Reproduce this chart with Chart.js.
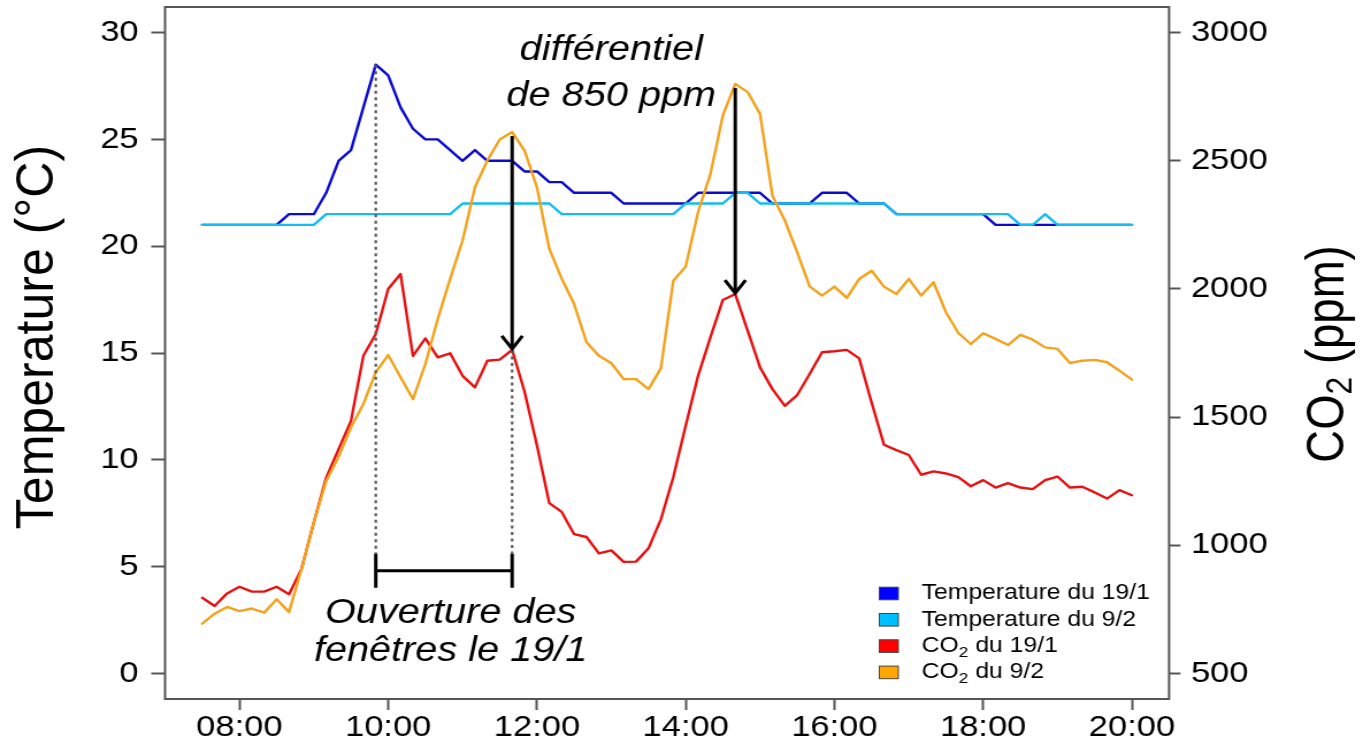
<!DOCTYPE html>
<html><head><meta charset="utf-8">
<script src="https://cdn.jsdelivr.net/npm/chart.js"></script>
<style>
html,body{margin:0;padding:0;background:#fff;overflow:hidden;width:1363px;height:743px;}
#wrap{position:absolute;left:0;top:0;width:1185px;height:743px;transform-origin:0 0;transform:scaleX(1.150211);}
canvas{display:block;}
</style></head><body>
<div id="wrap"><canvas id="c" width="1185" height="743"></canvas></div>
<script>
// ---------- DATA ----------
const times = ['07:30','07:40','07:50','08:00','08:10','08:20','08:30','08:40','08:50','09:00',
  '09:10','09:20','09:30','09:40','09:50','10:00','10:10','10:20','10:30','10:40',
  '10:50','11:00','11:10','11:20','11:30','11:40','11:50','12:00','12:10','12:20',
  '12:30','12:40','12:50','13:00','13:10','13:20','13:30','13:40','13:50','14:00',
  '14:10','14:20','14:30','14:40','14:50','15:00','15:10','15:20','15:30','15:40',
  '15:50','16:00','16:10','16:20','16:30','16:40','16:50','17:00','17:10','17:20',
  '17:30','17:40','17:50','18:00','18:10','18:20','18:30','18:40','18:50','19:00',
  '19:10','19:20','19:30','19:40','19:50','20:00'];

const temp19 = [21,21,21,21,21,21,21,21.5,21.5,21.5,
  22.5,24,24.5,26.5,28.5,28,26.5,25.5,25,25,
  24.5,24,24.5,24,24,24,23.5,23.5,23,23,
  22.5,22.5,22.5,22.5,22,22,22,22,22,22,
  22.5,22.5,22.5,22.5,22.5,22.5,22,22,22,22,
  22.5,22.5,22.5,22,22,22,21.5,21.5,21.5,21.5,
  21.5,21.5,21.5,21.5,21,21,21,21,21,21,
  21,21,21,21,21,21];

const temp9 = [21,21,21,21,21,21,21,21,21,21,
  21.5,21.5,21.5,21.5,21.5,21.5,21.5,21.5,21.5,21.5,
  21.5,22,22,22,22,22,22,22,22,21.5,
  21.5,21.5,21.5,21.5,21.5,21.5,21.5,21.5,21.5,22,
  22,22,22,22.5,22.5,22,22,22,22,22,
  22,22,22,22,22,22,21.5,21.5,21.5,21.5,
  21.5,21.5,21.5,21.5,21.5,21.5,21,21,21.5,21,
  21,21,21,21,21,21];

const co2_19 = [795,763,812,838,819,819,838,809,906,1089,
  1264,1375,1485,1739,1824,2000,2058,1739,1807,1733,
  1749,1661,1616,1720,1724,1762,1600,1390,1164,1130,
  1043,1032,968,980,935,936,988,1101,1265,1466,
  1661,1812,1957,1980,1837,1694,1609,1544,1586,1668,
  1753,1757,1762,1729,1557,1392,1371,1352,1275,1288,
  1280,1266,1230,1254,1225,1242,1225,1219,1254,1268,
  1225,1228,1206,1182,1215,1195];

const co2_9 = [694,733,759,743,753,737,789,739,906,1089,
  1251,1345,1460,1551,1675,1742,1655,1570,1707,1883,
  2039,2189,2397,2501,2583,2612,2540,2397,2156,2040,
  1941,1792,1739,1710,1648,1648,1609,1690,2032,2087,
  2300,2449,2677,2800,2768,2683,2364,2267,2143,2010,
  1974,2009,1965,2039,2071,2009,1980,2039,1974,2026,
  1909,1828,1785,1827,1805,1781,1821,1802,1772,1766,
  1711,1720,1723,1714,1681,1646];

const seriesNames = ['Temperature du 19/1','Temperature du 9/2','CO\u2082 du 19/1','CO\u2082 du 9/2'];
const xTickValues = ['08:00','10:00','12:00','14:00','16:00','18:00','20:00'];
const tempTicks = [0,5,10,15,20,25,30];
const co2Ticks = [500,1000,1500,2000,2500,3000];
const leftTitle = 'Temperature (\u00B0C)';
const rightTitle = 'CO\u2082 (ppm)';
const openStart = '09:50', openEnd = '11:40';
const arrowTimes = ['11:40','14:40'];
const noteTop = ['diff\u00E9rentiel','de 850 ppm'];
const noteBottom = ['Ouverture des','fen\u00EAtres le 19/1'];

// ---------- STYLE ----------
const FONT = "'Liberation Sans', Arial, Helvetica, sans-serif";
const lineColors = ['#0a0ad0','#12bdf2','#e81010','#f3a21c'];
const legendColors = ['#0000ff','#00bfff','#ff0000','#ffa500'];

const toHours = s => { const p = s.split(':').map(Number); return p[0] + p[1]/60; };
const xs = times.map(toHours);
const pts = arr => arr.map((v,i) => ({x: xs[i], y: v}));

function richParts(text){
  return text.split(/(\u2082)/).filter(s => s.length).map(s => s === '\u2082' ? {t:'2', sub:true} : {t:s, sub:false});
}
function drawRich(ctx, text, x, y, size, style, align){
  const parts = richParts(text);
  const f = p => `${style} ${p.sub ? size*0.7 : size}px ${FONT}`;
  let w = 0;
  parts.forEach(p => { ctx.font = f(p); p.w = ctx.measureText(p.t).width; w += p.w; });
  let cx = align === 'center' ? x - w/2 : (align === 'right' ? x - w : x);
  ctx.textAlign = 'left';
  parts.forEach(p => { ctx.font = f(p); ctx.fillText(p.t, cx, y + (p.sub ? size*0.24 : 0)); cx += p.w; });
}

const decor = {
  id: 'decor',
  afterDatasetsDraw(chart){
    const {ctx, scales:{x, y, y1}} = chart;
    const iO = times.indexOf(openStart), iC = times.indexOf(openEnd);
    const xo = x.getPixelForValue(xs[iO]), xc = x.getPixelForValue(xs[iC]);
    const yBr = y.getPixelForValue(4.8);
    ctx.save();
    ctx.lineCap = 'butt';
    // dotted guides
    ctx.setLineDash([3,3.5]); ctx.strokeStyle = '#5a5a5a'; ctx.lineWidth = 2.2;
    ctx.beginPath();
    ctx.moveTo(xo, y.getPixelForValue(temp19[iO])); ctx.lineTo(xo, yBr - 17);
    ctx.moveTo(xc, y1.getPixelForValue(co2_19[iC])); ctx.lineTo(xc, yBr - 17);
    ctx.stroke();
    ctx.setLineDash([]);
    // bracket
    ctx.strokeStyle = '#000'; ctx.lineWidth = 3;
    ctx.beginPath();
    ctx.moveTo(xo, yBr); ctx.lineTo(xc, yBr);
    ctx.moveTo(xo, yBr - 17); ctx.lineTo(xo, yBr + 17);
    ctx.moveTo(xc, yBr - 17); ctx.lineTo(xc, yBr + 17);
    ctx.stroke();
    // arrows
    ctx.lineWidth = 3; ctx.lineJoin = 'miter';
    arrowTimes.forEach(t => {
      const i = times.indexOf(t);
      const px = x.getPixelForValue(xs[i]);
      const yT = y1.getPixelForValue(co2_9[i]) + 4;
      const yB = y1.getPixelForValue(co2_19[i]);
      ctx.beginPath(); ctx.moveTo(px, yT); ctx.lineTo(px, yB - 1.5); ctx.stroke();
      ctx.beginPath(); ctx.moveTo(px - 9, yB - 14); ctx.lineTo(px, yB - 1); ctx.lineTo(px + 9, yB - 14); ctx.stroke();
    });
    // notes
    ctx.fillStyle = '#000'; ctx.textBaseline = 'alphabetic';
    const xTop = x.getPixelForValue(13.0);
    drawRich(ctx, noteTop[0], xTop, 59.5, 34.5, 'italic', 'center');
    drawRich(ctx, noteTop[1], xTop, 106, 34.5, 'italic', 'center');
    const xBot = x.getPixelForValue(10.84);
    drawRich(ctx, noteBottom[0], xBot, 622.5, 34.5, 'italic', 'center');
    drawRich(ctx, noteBottom[1], xBot, 660.5, 34.5, 'italic', 'center');
    ctx.restore();
  },
  afterDraw(chart){
    const {ctx, chartArea:a} = chart;
    ctx.save();
    // frame
    ctx.strokeStyle = '#555'; ctx.lineWidth = 2;
    ctx.strokeRect(a.left, a.top, a.right - a.left, a.bottom - a.top);
    // axis titles
    ctx.fillStyle = '#000'; ctx.textBaseline = 'middle';
    ctx.save(); ctx.translate(33.7, 337); ctx.rotate(-Math.PI/2); ctx.scale(1.1, 1);
    drawRich(ctx, leftTitle, 0, 0, 45.5, 'normal', 'center'); ctx.restore();
    ctx.save(); ctx.translate(1155.5, 354); ctx.rotate(-Math.PI/2);
    drawRich(ctx, rightTitle, 0, 0, 45.5, 'normal', 'center'); ctx.restore();
    // legend
    ctx.textBaseline = 'alphabetic';
    const boxL = a.right - 251.9, textL = a.right - 215.1;
    seriesNames.forEach((n, k) => {
      const cy = a.bottom - 105.5 + k*26.3;
      ctx.fillStyle = legendColors[k];
      ctx.fillRect(boxL, cy - 6.3, 16.5, 12.6);
      ctx.strokeStyle = '#444'; ctx.lineWidth = 1;
      ctx.strokeRect(boxL, cy - 6.3, 16.5, 12.6);
      ctx.fillStyle = '#000';
      drawRich(ctx, n, textL, cy + 5.8, 21.5, 'normal', 'left');
    });
    ctx.restore();
  }
};

const common = {pointRadius: 0, borderWidth: 2.4, fill: false, tension: 0, borderJoinStyle: 'round', borderCapStyle: 'round'};
const tickFont = {family: FONT, size: 30};
const noPadV = s => { s.paddingTop = 0; s.paddingBottom = 0; };

new Chart(document.getElementById('c'), {
  type: 'line',
  data: {
    datasets: [
      Object.assign({label: seriesNames[0], data: pts(temp19), yAxisID: 'y', borderColor: lineColors[0], order: 3}, common),
      Object.assign({label: seriesNames[1], data: pts(temp9), yAxisID: 'y', borderColor: lineColors[1], order: 2}, common),
      Object.assign({label: seriesNames[2], data: pts(co2_19), yAxisID: 'y1', borderColor: lineColors[2], order: 1}, common),
      Object.assign({label: seriesNames[3], data: pts(co2_9), yAxisID: 'y1', borderColor: lineColors[3], order: 0}, common)
    ]
  },
  options: {
    responsive: false, animation: false, devicePixelRatio: 1,
    layout: {padding: {top: 7, left: 0, right: 0, bottom: 0}},
    plugins: {legend: {display: false}, tooltip: {enabled: false}},
    scales: {
      x: {
        type: 'linear', min: 7, max: 20.5,
        afterBuildTicks: ax => { ax.ticks = xTickValues.map(s => ({value: toHours(s)})); },
        afterFit: s => { s.height = 44; s.paddingLeft = 0; s.paddingRight = 0; },
        grid: {drawOnChartArea: false, drawTicks: true, tickLength: 11, tickColor: '#555', tickWidth: 2},
        border: {display: false},
        ticks: {font: tickFont, color: '#000', padding: 0, maxRotation: 0, autoSkip: false,
          callback: (v, i) => xTickValues[i]}
      },
      y: {
        type: 'linear', position: 'left', min: -1.2, max: 31.2,
        afterBuildTicks: ax => { ax.ticks = tempTicks.map(v => ({value: v})); },
        afterFit: s => { s.width = 143.5; noPadV(s); },
        grid: {drawOnChartArea: false, drawTicks: true, tickLength: 12, tickColor: '#555', tickWidth: 2},
        border: {display: false},
        ticks: {font: tickFont, color: '#000', padding: 11, callback: v => String(v)}
      },
      y1: {
        type: 'linear', position: 'right', min: 400, max: 3100,
        afterBuildTicks: ax => { ax.ticks = co2Ticks.map(v => ({value: v})); },
        afterFit: s => { s.width = 168.6; noPadV(s); },
        grid: {drawOnChartArea: false, drawTicks: true, tickLength: 10, tickColor: '#555', tickWidth: 2},
        border: {display: false},
        ticks: {font: tickFont, color: '#000', padding: 9, callback: v => String(v)}
      }
    }
  },
  plugins: [decor]
});
</script>
</body></html>
